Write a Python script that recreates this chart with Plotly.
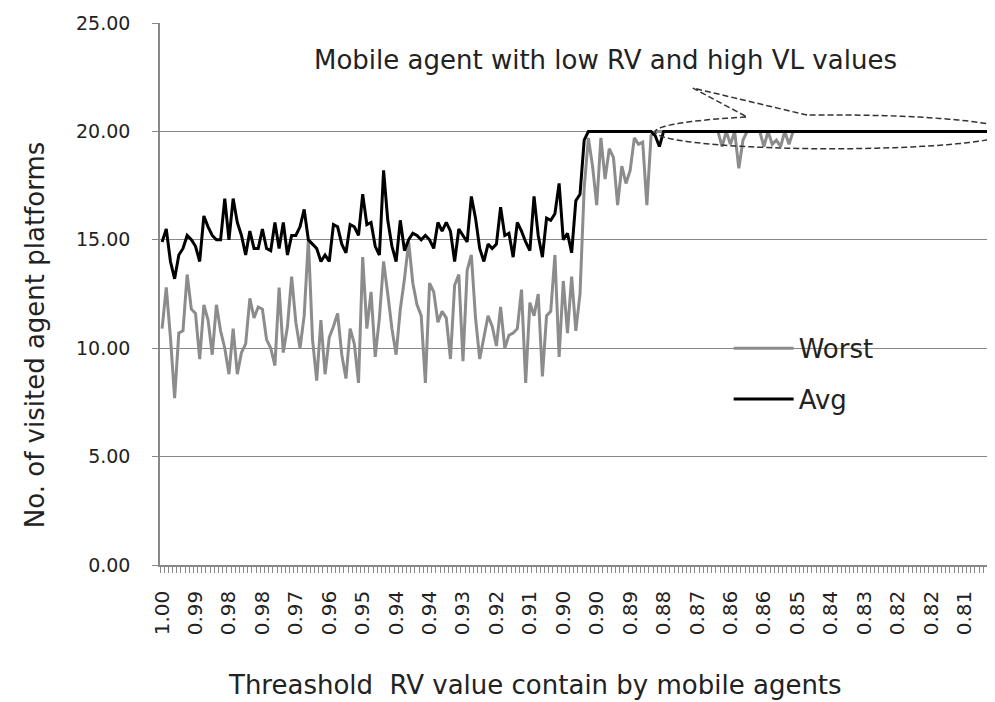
import math
import plotly.graph_objects as go

# x tick labels (RV threshold), one every 8 categories
tick_labels = ['1.00', '0.99', '0.98', '0.98', '0.97', '0.96', '0.95', '0.94', '0.94',
               '0.93', '0.92', '0.91', '0.90', '0.90', '0.89', '0.88', '0.87', '0.86',
               '0.86', '0.85', '0.84', '0.83', '0.82', '0.82', '0.81']

worst = [
    10.9, 12.8, 10.5, 7.7, 10.7, 10.8, 13.4, 11.8, 11.6, 9.5,
    12.0, 11.3, 9.7, 12.0, 10.8, 10.0, 8.8, 10.9, 8.8, 9.8,
    10.2, 12.3, 11.4, 11.9, 11.8, 10.4, 10.0, 9.2, 12.8, 9.8,
    11.0, 13.3, 11.2, 10.0, 11.5, 15.0, 10.4, 8.5, 11.3, 8.8,
    10.5, 11.0, 11.6, 9.7, 8.6, 10.9, 10.2, 8.4, 14.2, 10.9,
    12.6, 9.6, 11.4, 14.0, 12.5, 10.9, 9.7, 11.8, 13.2, 14.9,
    13.0, 12.0, 11.5, 8.4, 13.0, 12.6, 11.2, 11.7, 11.4, 9.5,
    12.9, 13.4, 9.4, 13.6, 14.3, 11.4, 9.5, 10.6, 11.5, 11.0,
    10.1, 11.9, 10.0, 10.6, 10.7, 10.9, 12.7, 8.4, 12.1, 11.5,
    12.5, 8.7, 11.5, 11.7, 14.3, 9.6, 13.1, 10.7, 13.3, 10.8,
    12.5, 17.4, 19.7, 18.4, 16.6, 19.7, 17.8, 19.2, 18.8, 16.6,
    18.4, 17.6, 18.2, 19.7, 19.4, 19.5, 16.6, 19.8, 20.0, 20.0,
    20.0, 20.0, 20.0, 20.0, 20.0, 20.0, 20.0, 20.0, 20.0, 20.0,
    20.0, 20.0, 20.0, 20.0, 19.3, 20.0, 19.4, 20.0, 18.3, 19.6,
    20.0, 20.0, 20.0, 20.0, 19.3, 20.0, 19.4, 19.6, 19.3, 20.0,
    19.4, 20.0, 20.0, 20.0, 20.0, 20.0, 20.0, 20.0, 20.0, 20.0,
    20.0, 20.0, 20.0, 20.0, 20.0, 20.0, 20.0, 20.0, 20.0, 20.0,
    20.0, 20.0, 20.0, 20.0, 20.0, 20.0, 20.0, 20.0, 20.0, 20.0,
    20.0, 20.0, 20.0, 20.0, 20.0, 20.0, 20.0, 20.0, 20.0, 20.0,
    20.0, 20.0, 20.0, 20.0, 20.0, 20.0, 20.0, 20.0, 20.0, 20.0,
]

avg = [
    14.9, 15.5, 14.0, 13.2, 14.3, 14.6, 15.2, 15.0, 14.7, 14.0,
    16.1, 15.6, 15.2, 15.0, 15.0, 16.9, 15.0, 16.9, 15.8, 15.2,
    14.3, 15.4, 14.6, 14.6, 15.5, 14.6, 14.5, 15.8, 14.6, 15.8,
    14.3, 15.2, 15.2, 15.6, 16.4, 15.0, 14.8, 14.6, 14.0, 14.3,
    14.0, 15.7, 15.6, 14.8, 14.4, 15.7, 15.6, 15.2, 17.1, 15.7,
    15.8, 14.7, 14.3, 18.2, 15.9, 14.7, 14.0, 15.9, 14.5, 15.0,
    15.3, 15.2, 15.0, 15.2, 15.0, 14.6, 15.8, 15.4, 15.8, 15.4,
    14.0, 15.5, 15.2, 14.9, 17.0, 16.0, 14.6, 14.0, 14.8, 14.6,
    14.8, 16.5, 15.2, 15.3, 14.2, 15.8, 15.4, 14.9, 14.5, 17.0,
    15.2, 14.2, 16.0, 15.9, 16.2, 17.6, 15.0, 15.3, 14.4, 16.8,
    17.1, 19.6, 20.0, 20.0, 20.0, 20.0, 20.0, 20.0, 20.0, 20.0,
    20.0, 20.0, 20.0, 20.0, 20.0, 20.0, 20.0, 20.0, 19.8, 19.3,
    20.0, 20.0, 20.0, 20.0, 20.0, 20.0, 20.0, 20.0, 20.0, 20.0,
    20.0, 20.0, 20.0, 20.0, 20.0, 20.0, 20.0, 20.0, 20.0, 20.0,
    20.0, 20.0, 20.0, 20.0, 20.0, 20.0, 20.0, 20.0, 20.0, 20.0,
    20.0, 20.0, 20.0, 20.0, 20.0, 20.0, 20.0, 20.0, 20.0, 20.0,
    20.0, 20.0, 20.0, 20.0, 20.0, 20.0, 20.0, 20.0, 20.0, 20.0,
    20.0, 20.0, 20.0, 20.0, 20.0, 20.0, 20.0, 20.0, 20.0, 20.0,
    20.0, 20.0, 20.0, 20.0, 20.0, 20.0, 20.0, 20.0, 20.0, 20.0,
    20.0, 20.0, 20.0, 20.0, 20.0, 20.0, 20.0, 20.0, 20.0, 20.0,
]

points = list(range(len(avg)))
tick_pos = points[::8]

AXIS_GREY = '#888888'
TEXT = '#222222'
FONT = 'DejaVu Sans, Verdana, sans-serif'

fig = go.Figure()
fig.add_trace(go.Scatter(x=points, y=worst, mode='lines', name='Worst', legendgroup='w',
                         line=dict(color='#8c8c8c', width=3)))
fig.add_trace(go.Scatter(x=points, y=avg, mode='lines', name='Avg', legendgroup='a',
                         line=dict(color='black', width=3)))

# dashed callout bubble (ellipse with a pointer), in data units
cx, cy, a, b = 160.3, 19.98, 42.3, 0.78
tip = (127.0, 22.0)
t_right, t_left = 98.1, 118.7


def ell(t):
    r = math.radians(t)
    return cx + a * math.cos(r), cy + b * math.sin(r)


x0, y0 = ell(t_right)
path = f'M{x0},{y0} L{tip[0]},{tip[1]}'
t = t_left
while t <= t_right + 360:
    px, py = ell(t)
    path += f' L{px},{py}'
    t += 2
px, py = ell(t_right + 360)
path += f' L{px},{py}'

fig.add_shape(type='path', path=path, xref='x', yref='y',
              line=dict(color='#333333', width=1.5, dash='6px,3px'))

fig.add_annotation(text='Mobile agent with low RV and high VL values', xref='paper', yref='paper',
                   x=0.533, y=0.932, xanchor='center', yanchor='middle', showarrow=False,
                   font=dict(size=26, color=TEXT))
fig.add_annotation(text='No. of visited agent platforms', xref='paper', yref='paper',
                   x=-0.1497, y=0.424, xanchor='center', yanchor='middle', textangle=-90,
                   showarrow=False, font=dict(size=26, color=TEXT))
fig.add_annotation(text='Threashold  RV value contain by mobile agents', xref='paper', yref='paper',
                   x=0.449, y=-0.221, xanchor='center', yanchor='middle', showarrow=False,
                   font=dict(size=26, color=TEXT))

# page has an 8px body margin, so the figure is a little smaller than the window
fig.update_layout(
    width=987, height=694,
    margin=dict(l=152, r=0, t=15, b=137),
    plot_bgcolor='white', paper_bgcolor='white',
    font=dict(family=FONT, size=20, color=TEXT),
    legend=dict(x=0.681, y=0.443, xanchor='left', yanchor='top', bgcolor='rgba(0,0,0,0)',
                tracegroupgap=14, itemwidth=60, font=dict(size=26, color=TEXT)),
)
fig.update_xaxes(range=[-0.5, 199.3], tickmode='array', tickvals=tick_pos, ticktext=tick_labels,
                 tickangle=-90, ticks='', showline=True, linecolor=AXIS_GREY, linewidth=1.5,
                 showgrid=False, zeroline=False, ticklabelstandoff=16,
                 minor=dict(ticks='outside', tickmode='linear', tick0=-0.5, dtick=1,
                            ticklen=6, tickcolor=AXIS_GREY, showgrid=False))
fig.update_yaxes(range=[0, 25], dtick=5, tickformat='.2f', ticks='outside', ticklen=6,
                 tickcolor=AXIS_GREY, showline=True, linecolor=AXIS_GREY, linewidth=1.5,
                 gridcolor=AXIS_GREY, gridwidth=1, zeroline=False, ticklabelstandoff=18,
                 tickfont=dict(size=19))

fig.write_html('out.html')
